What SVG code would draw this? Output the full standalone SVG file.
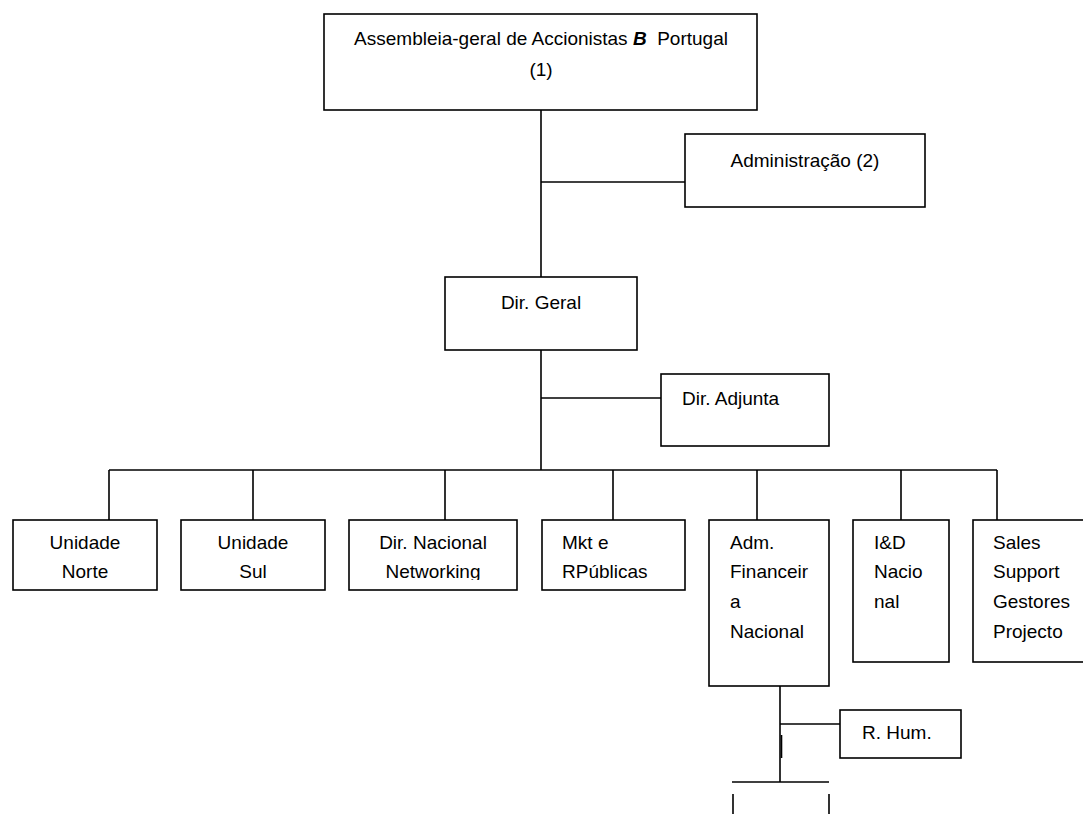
<svg xmlns="http://www.w3.org/2000/svg" width="1083" height="814" viewBox="0 0 1083 814">
  <style>
    .box { fill: #fff; stroke: #000; stroke-width: 1.6; }
    .ln { fill: none; stroke: #000; stroke-width: 1.6; }
    .t { font-family: "Liberation Sans", Arial, sans-serif; font-size: 19px; fill: #000; }
    .c { text-anchor: middle; }
    .bi { font-weight: bold; font-style: italic; }
  </style>
  <defs>
    <!-- the second line of the Networking box is cut just under its baseline -->
    <clipPath id="clipNet">
      <rect x="349" y="520" width="168" height="60"/>
    </clipPath>
  </defs>
  <rect width="1083" height="814" fill="#fff"/>

  <!-- connectors -->
  <g id="connectors" class="ln">
    <path d="M541 110V277"/>
    <path d="M541 182H685"/>
    <path d="M541 350V470"/>
    <path d="M541 398H661"/>
    <path d="M109 470H997"/>
    <path d="M109 470V520M253 470V520M445 470V520M613 470V520M757 470V520M901 470V520M997 470V520"/>
    <path d="M780 686V782"/>
    <path d="M781.5 735V758"/>
    <path d="M780 724H840"/>
    <path d="M732 782H829"/>
    <path d="M733 794V814M829 794V814"/>
  </g>

  <g id="assembleia">
    <rect class="box" x="324" y="14" width="433" height="96"/>
    <text class="t c" x="541" y="45" xml:space="preserve">Assembleia-geral de Accionistas <tspan class="bi">B</tspan>  Portugal</text>
    <text class="t c" x="541" y="76">(1)</text>
  </g>

  <g id="administracao">
    <rect class="box" x="685" y="134" width="240" height="73"/>
    <text class="t c" x="805" y="167">Administração (2)</text>
  </g>

  <g id="dir-geral">
    <rect class="box" x="445" y="277" width="192" height="73"/>
    <text class="t c" x="541" y="309">Dir. Geral</text>
  </g>

  <g id="dir-adjunta">
    <rect class="box" x="661" y="374" width="168" height="72"/>
    <text class="t" x="682" y="405">Dir. Adjunta</text>
  </g>

  <g id="unidade-norte">
    <rect class="box" x="13" y="520" width="144" height="70"/>
    <text class="t c" x="85" y="549">Unidade</text>
    <text class="t c" x="85" y="578">Norte</text>
  </g>

  <g id="unidade-sul">
    <rect class="box" x="181" y="520" width="144" height="70"/>
    <text class="t c" x="253" y="549">Unidade</text>
    <text class="t c" x="253" y="578">Sul</text>
  </g>

  <g id="dir-nacional-networking">
    <rect class="box" x="349" y="520" width="168" height="70"/>
    <text class="t c" x="433" y="549">Dir. Nacional</text>
    <text class="t c" x="433" y="578" clip-path="url(#clipNet)">Networking</text>
  </g>

  <g id="mkt-rpublicas">
    <rect class="box" x="542" y="520" width="143" height="70"/>
    <text class="t" x="562" y="549">Mkt e</text>
    <text class="t" x="562" y="578">RPúblicas</text>
  </g>

  <g id="adm-financeira">
    <rect class="box" x="709" y="520" width="120" height="166"/>
    <text class="t" x="730" y="549">Adm.</text>
    <text class="t" x="730" y="578">Financeir</text>
    <text class="t" x="730" y="608">a</text>
    <text class="t" x="730" y="638">Nacional</text>
  </g>

  <g id="id-nacional">
    <rect class="box" x="853" y="520" width="96" height="142"/>
    <text class="t" x="874" y="549">I&amp;D</text>
    <text class="t" x="874" y="578">Nacio</text>
    <text class="t" x="874" y="608">nal</text>
  </g>

  <g id="sales-support">
    <rect class="box" x="973" y="520" width="120" height="142"/>
    <text class="t" x="993" y="549">Sales</text>
    <text class="t" x="993" y="578">Support</text>
    <text class="t" x="993" y="608">Gestores</text>
    <text class="t" x="993" y="638">Projecto</text>
  </g>

  <g id="r-hum">
    <rect class="box" x="840" y="710" width="121" height="48"/>
    <text class="t" x="862" y="739">R. Hum.</text>
  </g>
</svg>
